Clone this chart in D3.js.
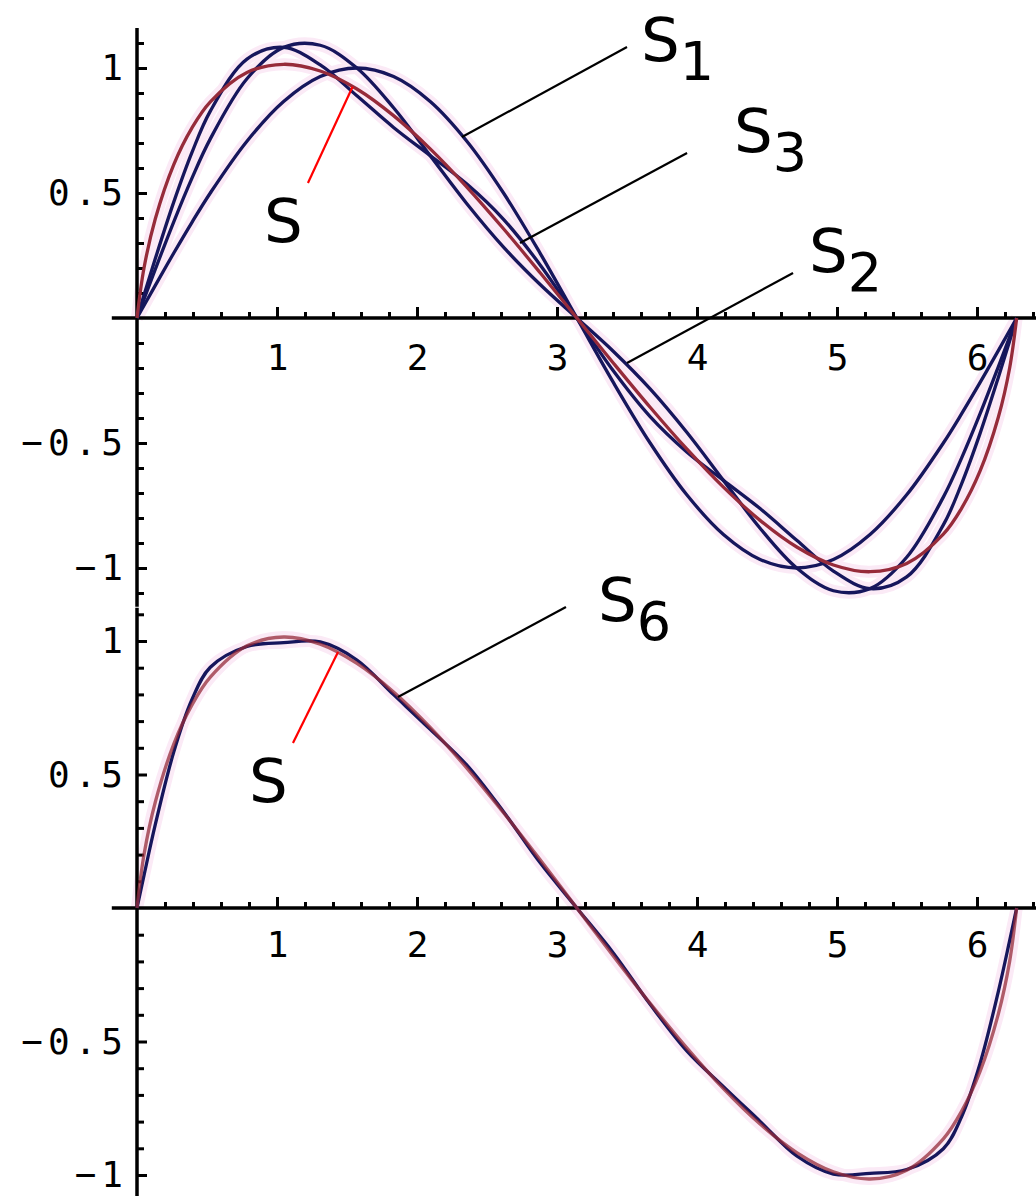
<!DOCTYPE html>
<html>
<head>
<meta charset="utf-8">
<script src="https://cdn.jsdelivr.net/npm/d3@7"></script>
<style>
  body { margin: 0; background: #fff; }
  .axis .tick line { stroke: #000; stroke-width: 3; }
  .axis .tick text { font-family: "DejaVu Sans Mono", monospace; font-size: 36px; fill: #000; }
  .yaxis .tick text { letter-spacing: 5px; }
  .note { font-family: "DejaVu Sans", Verdana, sans-serif; font-size: 61px; fill: #000; }
</style>
</head>
<body>
<div id="chart"></div>
<script>
// x positions (radians, 0 .. 2*pi)
var xs = [0, 0.05, 0.1309, 0.2618, 0.3927, 0.5236, 0.7854, 1.0472, 1.3090, 1.5708,
          1.8326, 2.0944, 2.3562, 2.6180, 2.8798, 3.1416, 3.4034, 3.6652, 3.9270,
          4.1888, 4.4506, 4.7124, 4.9742, 5.2360, 5.4978, 5.7596, 5.8905, 6.0214,
          6.1523, 6.2332, 6.2832];

// S : the limit curve (red)
var sVals = [0, 0.1998, 0.3971, 0.6129, 0.7606, 0.8644, 0.9819, 1.0149, 0.9879, 0.9160,
             0.8094, 0.6766, 0.5238, 0.3569, 0.1807, 0, -0.1807, -0.3569, -0.5238,
             -0.6766, -0.8094, -0.9160, -0.9879, -1.0149, -0.9819, -0.8644, -0.7606,
             -0.6129, -0.3971, -0.1998, 0];

// partial sums (blue)
var s1Vals = [0, 0.05, 0.1305, 0.2588, 0.3827, 0.5, 0.7071, 0.8660, 0.9659, 1.0,
              0.9659, 0.8660, 0.7071, 0.5, 0.2588, 0, -0.2588, -0.5, -0.7071,
              -0.8660, -0.9659, -1.0, -0.9659, -0.8660, -0.7071, -0.5, -0.3827,
              -0.2588, -0.1305, -0.05, 0];
var s2Vals = [0, 0.075, 0.1952, 0.3838, 0.5595, 0.7165, 0.9571, 1.0825, 1.0909, 1.0,
              0.8409, 0.6495, 0.4571, 0.2835, 0.1338, 0, -0.1338, -0.2835, -0.4571,
              -0.6495, -0.8409, -1.0, -1.0909, -1.0825, -0.9571, -0.7165, -0.5595,
              -0.3838, -0.1952, -0.075, 0];
var s3Vals = [0, 0.0916, 0.2377, 0.4624, 0.6622, 0.8276, 1.0357, 1.0825, 1.0123, 0.8889,
              0.7623, 0.6495, 0.5357, 0.3946, 0.2124, 0, -0.2124, -0.3946, -0.5357,
              -0.6495, -0.7623, -0.8889, -1.0123, -1.0825, -1.0357, -0.8276, -0.6622,
              -0.4624, -0.2377, -0.0916, 0];
var s6Vals = [0, 0.1221, 0.3129, 0.5829, 0.7813, 0.9017, 0.9796, 0.9938, 0.9964, 0.9289,
              0.7990, 0.6690, 0.5352, 0.3605, 0.1691, 0, -0.1691, -0.3605, -0.5352,
              -0.6690, -0.7990, -0.9289, -0.9964, -0.9938, -0.9796, -0.9017, -0.7813,
              -0.5829, -0.3129, -0.1221, 0];

var xTicks = [1, 2, 3, 4, 5, 6];
var yTicks = [-1, -0.5, 0.5, 1];
var yTickLabels = ["\u22121", "\u22120.5", "0.5", "1"];

var W = 1036, H = 1196;
var blue = "#16165c", red = "#962b3a";

var svg = d3.select("#chart").append("svg")
    .attr("width", W).attr("height", H)
    .style("background", "#fff");

var x = d3.scaleLinear().domain([0, 6]).range([137, 977]);

var panels = [
  { y: d3.scaleLinear().domain([-1, 1]).range([568, 68]), top: 1.16, bottom: -1.155, pad: 26,
    blues: [s1Vals, s2Vals, s3Vals], minorY: d3.range(-11, 12) },
  { y: d3.scaleLinear().domain([-1, 1]).range([1175, 641]), top: 1.125, bottom: -1.1, pad: 23,
    blues: [s6Vals], minorY: d3.range(-10, 12) }
];

var notes = [
  { p: 0, t: "S", sub: "1", c: "#000", from: [3.5, 1.084], to: [2.321, 0.724], at: [3.6, 1.028] },
  { p: 0, t: "S", sub: "3", c: "#000", from: [3.929, 0.66], to: [2.736, 0.30], at: [4.264, 0.664] },
  { p: 0, t: "S", sub: "2", c: "#000", from: [4.686, 0.18], to: [3.5, -0.18], at: [4.8, 0.184] },
  { p: 0, t: "S", sub: "", c: "#ff0000", from: [1.221, 0.54], to: [1.54, 0.925], at: [0.907, 0.304] },
  { p: 1, t: "S", sub: "6", c: "#000", from: [3.064, 1.127], to: [1.864, 0.79], at: [3.293, 1.075] },
  { p: 1, t: "S", sub: "", c: "#ff0000", from: [1.114, 0.618], to: [1.436, 0.959], at: [0.8, 0.397] }
];

panels.forEach(function(P, pi) {
  var y = P.y;
  var g = svg.append("g");

  var line = d3.line()
      .x(function(d, i) { return x(xs[i]); })
      .y(function(d) { return y(d); })
      .curve(d3.curveCatmullRom.alpha(0.5));

  // faint halo like the original raster
  P.blues.concat([sVals]).forEach(function(vals) {
    g.append("path").attr("d", line(vals)).attr("fill", "none")
      .attr("stroke", "#fbeaf6").attr("stroke-width", 12).attr("stroke-linejoin", "round");
  });

  // minor x ticks
  g.append("g").attr("class", "axis").attr("transform", "translate(0," + y(0) + ")")
    .call(d3.axisBottom(x).tickValues(d3.range(1, 33).filter(function(i) { return i % 5; })
      .map(function(i) { return i * 0.2; })).tickSize(-6).tickFormat(""))
    .call(function(a) { a.select(".domain").remove(); });
  // major x ticks + labels
  g.append("g").attr("class", "axis").attr("transform", "translate(0," + y(0) + ")")
    .call(d3.axisBottom(x).tickValues(xTicks).tickSize(-11).tickPadding(P.pad).tickFormat(d3.format("d")))
    .call(function(a) { a.select(".domain").remove(); });

  // minor y ticks
  g.append("g").attr("class", "axis").attr("transform", "translate(" + x(0) + ",0)")
    .call(d3.axisLeft(y).tickValues(P.minorY.filter(function(i) { return i % 5; })
      .map(function(i) { return i / 10; })).tickSize(-7).tickFormat(""))
    .call(function(a) { a.select(".domain").remove(); });
  // major y ticks + labels
  g.append("g").attr("class", "axis yaxis").attr("transform", "translate(" + x(0) + ",0)")
    .call(d3.axisLeft(y).tickValues(yTicks).tickSize(-10).tickPadding(9)
      .tickFormat(function(d, i) { return yTickLabels[i]; }))
    .call(function(a) { a.select(".domain").remove(); });

  // axis lines
  g.append("line").attr("x1", x(-0.18)).attr("x2", x(6.7)).attr("y1", y(0)).attr("y2", y(0))
    .attr("stroke", "#000").attr("stroke-width", 3.5);
  g.append("line").attr("x1", x(0)).attr("x2", x(0)).attr("y1", y(P.top)).attr("y2", y(P.bottom))
    .attr("stroke", "#000").attr("stroke-width", 3.5);

  // curves
  P.blues.forEach(function(vals) {
    g.append("path").attr("d", line(vals)).attr("fill", "none")
      .attr("stroke", blue).attr("stroke-width", 3.3);
  });
  g.append("path").attr("d", line(sVals)).attr("fill", "none")
    .attr("stroke", red).attr("stroke-width", 3.3)
    .attr("stroke-opacity", pi === 1 ? 0.75 : 1);

  // labels with leader lines
  notes.filter(function(n) { return n.p === pi; }).forEach(function(n) {
    g.append("line")
      .attr("x1", x(n.from[0])).attr("y1", y(n.from[1]))
      .attr("x2", x(n.to[0])).attr("y2", y(n.to[1]))
      .attr("stroke", n.c).attr("stroke-width", 2.2);
    var t = g.append("text").attr("class", "note")
      .attr("x", x(n.at[0])).attr("y", y(n.at[1])).text(n.t);
    if (n.sub) {
      t.append("tspan").attr("dx", 0).attr("dy", 19).attr("font-size", 54).text(n.sub);
    }
  });
});
</script>
</body>
</html>
